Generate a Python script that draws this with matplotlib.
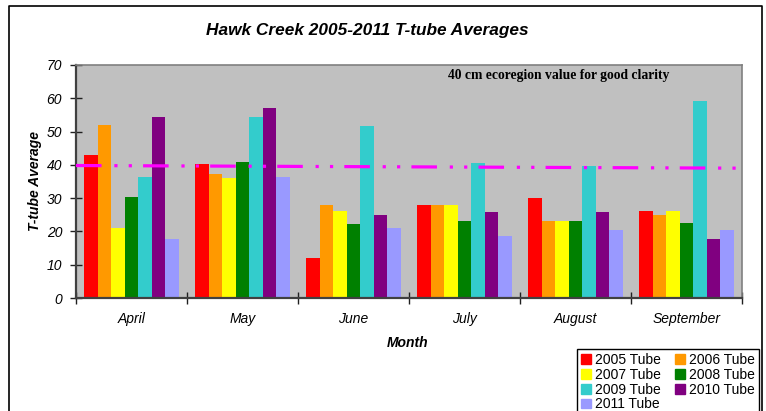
import matplotlib.pyplot as plt
import numpy as np
from matplotlib.patches import Rectangle
from matplotlib.lines import Line2D

plt.rcParams['font.family'] = ['Liberation Sans', 'DejaVu Sans']

months = ['April', 'May', 'June', 'July', 'August', 'September']
series_names = ['2005 Tube', '2006 Tube', '2007 Tube', '2008 Tube',
                '2009 Tube', '2010 Tube', '2011 Tube']
colors = ['#FF0000', '#FF9900', '#FFFF00', '#008000', '#33CCCC', '#800080', '#9999FF']

tube_2005 = [43.0, 40.3, 12.0, 28.0, 30.0, 26.0]
tube_2006 = [52.0, 37.3, 28.0, 28.0, 23.0, 25.0]
tube_2007 = [21.0, 36.2, 26.0, 28.0, 23.0, 26.0]
tube_2008 = [30.3, 40.8, 22.3, 23.0, 23.0, 22.6]
tube_2009 = [36.5, 54.3, 51.7, 40.6, 39.6, 59.2]
tube_2010 = [54.5, 57.2, 24.8, 25.8, 25.8, 17.8]
tube_2011 = [17.8, 36.5, 21.0, 18.7, 20.5, 20.5]
all_series = [tube_2005, tube_2006, tube_2007, tube_2008, tube_2009, tube_2010, tube_2011]

# ecoregion reference line, left and right end values
ecoregion_line = [39.8, 39.0]

W, H = 766, 411
fig = plt.figure(figsize=(W / 100, H / 100), dpi=100)
ax = fig.add_axes([76 / W, 1 - 298 / H, 666 / W, 233 / H])
ax.set_facecolor('#C0C0C0')

x = np.arange(len(months))
bw = 0.121
for i, (vals, c) in enumerate(zip(all_series, colors)):
    ax.bar(x + (i - 3) * bw, vals, width=bw, color=c, edgecolor='none', zorder=2)

ax.plot([-0.5, 5.5], ecoregion_line, color='#FF00FF', lw=2.3,
        linestyle=(0, (8, 4, 1, 3.5, 1, 3.5)), zorder=3, solid_capstyle='butt')

ax.set_xlim(-0.5, 5.5)
ax.set_ylim(0, 70)
ax.set_yticks(range(0, 71, 10))
ax.set_xticks(np.arange(-0.5, 6, 1))
ax.set_xticklabels([])
ax.set_xticks(x, minor=True)
ax.set_xticklabels(months, minor=True, fontsize=10, style='italic')
ax.tick_params(axis='x', which='minor', length=0, pad=10)
ax.tick_params(axis='x', which='major', direction='inout', length=8, width=1, color='#202020')
ax.tick_params(axis='y', direction='inout', length=8, width=1, color='#202020', pad=6)
for lab in ax.get_yticklabels():
    lab.set_fontsize(10)
    lab.set_fontstyle('italic')

for s in ['left', 'bottom']:
    ax.spines[s].set_color('#404040')
    ax.spines[s].set_linewidth(1.6)
for s in ['top', 'right']:
    ax.spines[s].set_color('#808080')
    ax.spines[s].set_linewidth(1.2)

ax.text(448 / W, 1 - 76 / H, '40 cm ecoregion value for good clarity',
        transform=fig.transFigure, fontsize=9.8, fontweight='bold',
        family=['Liberation Serif', 'DejaVu Serif'], va='center', ha='left')

fig.text(367 / W, 1 - 31 / H, 'Hawk Creek 2005-2011 T-tube Averages', fontsize=12.4,
         fontweight='bold', style='italic', ha='center', va='center')
fig.text(35 / W, 1 - 181 / H, 'T-tube Average', fontsize=10, fontweight='bold',
         style='italic', rotation=90, ha='center', va='center')
fig.text(408 / W, 1 - 343 / H, 'Month', fontsize=10, fontweight='bold',
         style='italic', ha='center', va='center')

# outer chart border (bottom runs off the image)
fig.add_artist(Line2D([9 / W, 9 / W, 762 / W, 762 / W], [0, 1 - 6 / H, 1 - 6 / H, 0],
                      transform=fig.transFigure, color='black', lw=1.2))

# legend fills row by row: reorder for matplotlib's column-wise filling
order = [0, 2, 4, 6, 1, 3, 5]
handles = [Rectangle((0, 0), 1, 1, color=colors[k]) for k in order]
labels = [series_names[k] for k in order]
leg = fig.legend(handles, labels, loc='upper left',
                 bbox_to_anchor=(577 / W, 1 - 349 / H), ncol=2, fontsize=10,
                 frameon=True, fancybox=False, edgecolor='black', framealpha=1,
                 handlelength=0.7, handleheight=0.7, handletextpad=0.3,
                 columnspacing=1.0, labelspacing=0.05, borderpad=0.3,
                 borderaxespad=0)
leg.get_frame().set_linewidth(1.0)

fig.savefig('out.png', dpi=100, facecolor='white')
